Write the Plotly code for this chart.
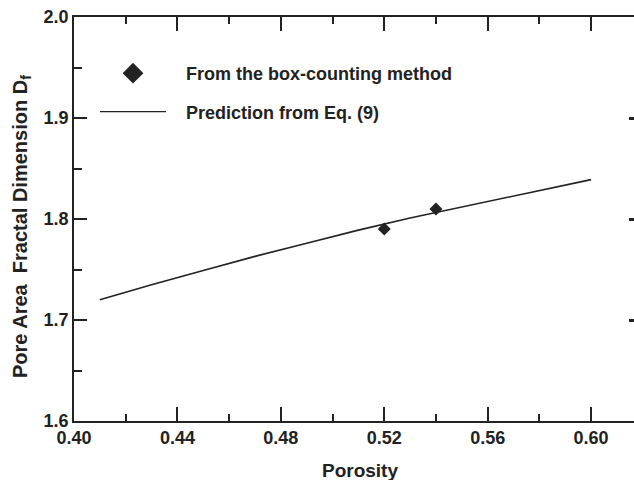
import plotly.graph_objects as go

# Data
box_x = [0.52, 0.54]
box_y = [1.79, 1.81]

pred_x = [0.41, 0.43, 0.45, 0.47, 0.49, 0.51, 0.53, 0.55, 0.57, 0.59, 0.60]
pred_y = [1.720, 1.735, 1.749, 1.763, 1.776, 1.789, 1.801, 1.812, 1.823, 1.834, 1.839]

x_ticks = [0.40, 0.44, 0.48, 0.52, 0.56, 0.60]
x_minor = [0.42, 0.46, 0.50, 0.54, 0.58]
y_ticks = [1.6, 1.7, 1.8, 1.9, 2.0]
y_minor = [1.65, 1.75, 1.85, 1.95]

ink = "#222222"
FONT = "Liberation Sans, Arial, sans-serif"
NB = "\u00a0\u00a0\u00a0"
X_RANGE = [0.40, 0.6166]
Y_RANGE = [1.6, 2.0]

fig = go.Figure()

# data traces (no legend)
fig.add_trace(go.Scatter(x=pred_x, y=pred_y, mode="lines",
                         line=dict(color=ink, width=1.6), showlegend=False))
fig.add_trace(go.Scatter(x=box_x, y=box_y, mode="markers",
                         marker=dict(symbol="diamond", size=10, color=ink),
                         showlegend=False))
# legend entries
fig.add_trace(go.Scatter(x=[None], y=[None], mode="markers",
                         marker=dict(symbol="diamond", size=16, color=ink),
                         name=NB + "From the box-counting method", legendgroup="a"))
fig.add_trace(go.Scatter(x=[None], y=[None], mode="lines",
                         line=dict(color=ink, width=1.2),
                         name=NB + "Prediction from Eq. (9)", legendgroup="b"))
# helper traces for extra tick axes
fig.add_trace(go.Scatter(x=[None], y=[None], xaxis="x2", yaxis="y2", showlegend=False))
fig.add_trace(go.Scatter(x=[None], y=[None], xaxis="x3", yaxis="y3", showlegend=False))

tickfont = dict(family=FONT, size=18, color=ink, weight="bold")
common_tick = dict(showgrid=False, zeroline=False, tickcolor=ink)

fig.update_layout(
    width=634, height=480,
    margin=dict(l=74, r=0, t=17, b=59),
    paper_bgcolor="white", plot_bgcolor="white",
    showlegend=True,
    legend=dict(x=0.0375, y=0.906, xanchor="left", yanchor="top",
                xref="paper", yref="paper",
                font=dict(family=FONT, size=18, color=ink, weight="bold"),
                bgcolor="rgba(0,0,0,0)", itemwidth=66,
                tracegroupgap=12),
    xaxis=dict(range=X_RANGE, tickmode="array", tickvals=x_ticks,
               ticktext=[f"{v:.2f}" for v in x_ticks],
               showline=True, linecolor=ink, linewidth=1.5,
               ticks="inside", ticklen=14, tickwidth=1.5,
               mirror="allticks", tickfont=tickfont, **common_tick),
    yaxis=dict(range=Y_RANGE, tickmode="array", tickvals=y_ticks,
               ticktext=[f"{v:.1f}" for v in y_ticks],
               showline=True, linecolor=ink, linewidth=1.5,
               ticks="inside", ticklen=13, tickwidth=1.5,
               tickfont=tickfont, **common_tick),
    # minor ticks (bottom + top) for x
    xaxis2=dict(range=X_RANGE, overlaying="x", side="bottom", anchor="y",
                tickmode="array", tickvals=x_minor, showticklabels=False,
                showline=False, ticks="inside", ticklen=7, tickwidth=1.5,
                mirror="ticks", **common_tick),
    # minor ticks on left y axis
    yaxis2=dict(range=Y_RANGE, overlaying="y", side="left", anchor="x",
                tickmode="array", tickvals=y_minor, showticklabels=False,
                showline=False, ticks="inside", ticklen=8, tickwidth=1.5,
                **common_tick),
    xaxis3=dict(range=X_RANGE, overlaying="x", side="top", anchor="y",
                tickmode="array", tickvals=x_minor, showticklabels=False,
                showline=False, ticks="inside", ticklen=7, tickwidth=1.5,
                **common_tick),
    # right side (cropped) ticks
    yaxis3=dict(range=Y_RANGE, overlaying="y", side="right", anchor="x",
                tickmode="array", tickvals=y_ticks, showticklabels=False,
                showline=False, ticks="inside", ticklen=5, tickwidth=2.5,
                **common_tick),
    annotations=[
        dict(text="Porosity", xref="paper", yref="paper", x=0.511, y=0,
             xanchor="center", yanchor="middle", yshift=-49, showarrow=False,
             font=dict(family=FONT, size=19, color=ink, weight="bold")),
        dict(text="Pore Area  Fractal Dimension D<sub>f</sub>", xref="paper",
             yref="paper", x=0, y=0.48, xanchor="center", yanchor="middle",
             xshift=-53, textangle=-90, showarrow=False,
             font=dict(family=FONT, size=20, color=ink, weight="bold")),
    ],
)

fig.write_html("out.html")
